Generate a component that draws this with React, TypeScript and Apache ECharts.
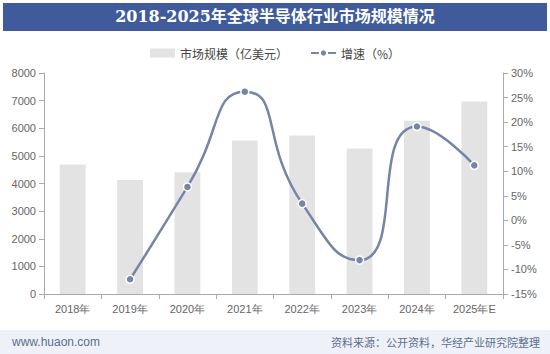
import React, { useEffect, useRef } from "react";
import * as echarts from "echarts";

const categories = ["2018年", "2019年", "2020年", "2021年", "2022年", "2023年", "2024年", "2025年E"];
const marketSize = [4688, 4123, 4404, 5559, 5741, 5268, 6269, 6972];
const growth = [null, -12.0, 6.8, 26.2, 3.4, -8.1, 19.1, 11.2];
const titleText = "2018-2025年全球半导体行业市场规模情况";
const legendBar = "市场规模（亿美元）";
const legendLine = "增速（%）";
const siteText = "www.huaon.com";
const sourceText = "资料来源：公开资料，华经产业研究院整理";

export default function App() {
  const ref = useRef<HTMLDivElement>(null);
  useEffect(() => {
    if (!ref.current) return;
    const chart = echarts.init(ref.current, undefined, { renderer: "svg" });
    const axisLabel = { color: "#666", fontSize: 11, fontFamily: "Arial, Liberation Sans, sans-serif" };
    chart.setOption({
      animation: false,
      backgroundColor: "#fff",
      graphic: [
        { type: "rect", left: 3, top: 3, shape: { width: 544, height: 28 }, style: { fill: "#3f5b9b" }, z: 0 },
        {
          type: "text", left: "center", top: 8,
          style: { text: titleText, fill: "#fff", font: "bold 16px 'DejaVu Serif', 'Noto Sans CJK SC', serif" },
        },
        { type: "rect", left: 0, top: 330, shape: { width: 550, height: 24 }, style: { fill: "#eef2f8" }, z: 0 },
        {
          type: "text", left: 12, top: 336,
          style: { text: siteText, fill: "#5d6e8e", font: "12px Arial, 'Liberation Sans', sans-serif" },
        },
        {
          type: "text", right: 10, top: 336,
          style: { text: sourceText, fill: "#5d6e8e", font: "11px 'Noto Sans CJK SC', sans-serif" },
        },
      ],
      legend: {
        top: 42,
        left: "center",
        itemGap: 22,
        itemWidth: 25,
        itemHeight: 9,
        textStyle: { color: "#444", fontSize: 12, fontFamily: "'Noto Sans CJK SC', sans-serif" },
        data: [
          { name: legendBar, icon: "rect" },
          { name: legendLine },
        ],
      },
      grid: { left: 44, right: 47, top: 73, bottom: 60, containLabel: false },
      xAxis: {
        type: "category",
        data: categories,
        axisLine: { lineStyle: { color: "#aaa" } },
        axisTick: { show: true, lineStyle: { color: "#aaa" } },
        axisLabel: { ...axisLabel, margin: 9 },
      },
      yAxis: [
        {
          type: "value", min: 0, max: 8000, interval: 1000,
          axisLine: { show: true, lineStyle: { color: "#aaa" } },
          axisTick: { show: true, lineStyle: { color: "#aaa" } },
          splitLine: { show: false },
          axisLabel: { ...axisLabel, margin: 8, formatter: (v: number) => String(v) },
        },
        {
          type: "value", min: -15, max: 30, interval: 5,
          axisLine: { show: true, lineStyle: { color: "#aaa" } },
          axisTick: { show: true, lineStyle: { color: "#aaa" } },
          splitLine: { show: false },
          axisLabel: { ...axisLabel, margin: 8, formatter: (v: number) => v + "%" },
        },
      ],
      series: [
        {
          name: legendBar,
          type: "bar",
          data: marketSize,
          barWidth: "45%",
          itemStyle: { color: "#e3e3e3" },
        },
        {
          name: legendLine,
          type: "line",
          yAxisIndex: 1,
          data: growth,
          smooth: 0.6,
          symbol: "circle",
          symbolSize: 8,
          lineStyle: { color: "#7485a8", width: 2.5 },
          itemStyle: { color: "#7485a8", borderColor: "#fff", borderWidth: 1.5 },
        },
      ],
    });
    return () => chart.dispose();
  }, []);
  return <div ref={ref} style={{ width: 550, height: 354, position: "absolute", left: 0, top: 0 }} />;
}
